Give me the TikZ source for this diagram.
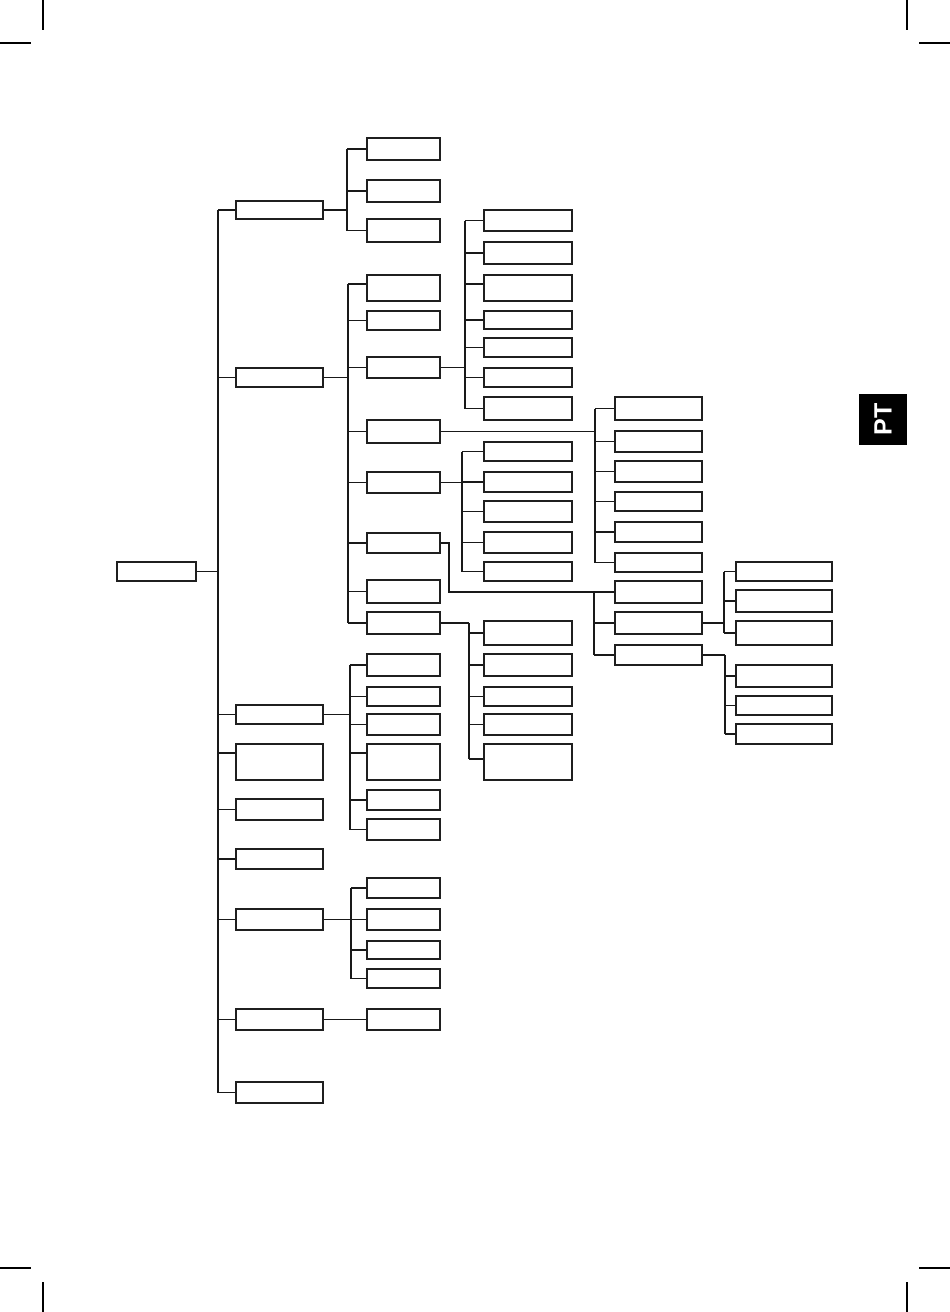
\documentclass[tikz,border=0pt]{standalone}
\usepackage{fontspec}
\setmainfont{Liberation Sans}
\usetikzlibrary{calc}
\newcommand\bx[5]{\node[bx,minimum width={(#4-#2)*1pt},minimum height={(#5-#3)*1pt}] (#1) at ({(#2+#4)/2},{(#3+#5)/2}) {};}
\tikzset{
  bx/.style={draw=black!88,line width=1.8pt,inner sep=0pt,fill=white},
  ln/.style={draw=black!90,line width=1.2pt},
  crop/.style={draw=black,line width=1.3pt},
  tabbox/.style={fill=black,text=white,inner sep=0pt,font=\bfseries\fontsize{25}{25}\selectfont}
}
\begin{document}
\begin{tikzpicture}[x=1pt,y=-1pt]
\useasboundingbox (0,0) rectangle (950,1312);
% crop marks
\draw[crop] (43,0) -- (43,30);
\draw[crop] (0,43) -- (31,43);
\draw[crop] (907,0) -- (907,30);
\draw[crop] (919,43) -- (950,43);
\draw[crop] (43,1282) -- (43,1312);
\draw[crop] (0,1268) -- (31,1268);
\draw[crop] (907,1282) -- (907,1312);
\draw[crop] (919,1268) -- (950,1268);
% tab
\node[tabbox,rotate=90,minimum width=51pt,minimum height=48pt] (pt) at (883,419.5) {PT};
% root and level 1
\bx{r}{117}{562}{196}{581}
\bx{a1}{236}{201}{323}{219}
\bx{a2}{236}{368}{323}{387}
\bx{a3}{236}{705}{323}{724}
\bx{a4}{236}{744}{323}{780}
\bx{a5}{236}{799}{323}{820}
\bx{a6}{236}{849}{323}{869}
\bx{a7}{236}{909}{323}{930}
\bx{a8}{236}{1009}{323}{1030}
\bx{a9}{236}{1082}{323}{1103}
% a1 children
\bx{b1}{367}{138}{440}{160}
\bx{b2}{367}{180}{440}{202}
\bx{b3}{367}{219}{440}{242}
% a2 children
\bx{d1}{367}{275}{440}{301}
\bx{d2}{367}{311}{440}{330}
\bx{d3}{367}{357}{440}{378}
\bx{d4}{367}{420}{440}{443}
\bx{d5}{367}{472}{440}{493}
\bx{d6}{367}{533}{440}{553}
\bx{d7}{367}{580}{440}{603}
\bx{d8}{367}{612}{440}{634}
% d3 children
\bx{e1}{484}{210}{572}{231}
\bx{e2}{484}{242}{572}{264}
\bx{e3}{484}{275}{572}{301}
\bx{e4}{484}{311}{572}{329}
\bx{e5}{484}{338}{572}{357}
\bx{e6}{484}{368}{572}{387}
\bx{e7}{484}{397}{572}{420}
% d4 children
\bx{f1}{615}{397}{702}{420}
\bx{f2}{615}{431}{702}{452}
\bx{f3}{615}{461}{702}{482}
\bx{f4}{615}{492}{702}{511}
\bx{f5}{615}{522}{702}{542}
\bx{f6}{615}{553}{702}{572}
% d5 children
\bx{g1}{484}{442}{572}{461}
\bx{g2}{484}{472}{572}{492}
\bx{g3}{484}{501}{572}{522}
\bx{g4}{484}{532}{572}{553}
\bx{g5}{484}{562}{572}{581}
% d6 children
\bx{h1}{615}{581}{702}{603}
\bx{h2}{615}{612}{702}{634}
\bx{h3}{615}{645}{702}{665}
% h2 children
\bx{i1}{736}{562}{832}{581}
\bx{i2}{736}{590}{832}{612}
\bx{i3}{736}{621}{832}{645}
% h3 children
\bx{j1}{736}{665}{832}{687}
\bx{j2}{736}{696}{832}{715}
\bx{j3}{736}{724}{832}{744}
% d8 children
\bx{k1}{484}{621}{572}{645}
\bx{k2}{484}{654}{572}{676}
\bx{k3}{484}{687}{572}{706}
\bx{k4}{484}{714}{572}{735}
\bx{k5}{484}{744}{572}{780}
% a3 children
\bx{l1}{367}{654}{440}{676}
\bx{l2}{367}{687}{440}{706}
\bx{l3}{367}{714}{440}{735}
\bx{l4}{367}{744}{440}{780}
\bx{l5}{367}{790}{440}{810}
\bx{l6}{367}{819}{440}{840}
% a7 children
\bx{m1}{367}{878}{440}{898}
\bx{m2}{367}{909}{440}{930}
\bx{m3}{367}{941}{440}{959}
\bx{m4}{367}{969}{440}{988}
% a8 child
\bx{n1}{367}{1009}{440}{1030}
% shifted anchor points for tall boxes
\coordinate (pa4) at ([yshift=9pt]a4.west);
\coordinate (pd1) at ([yshift=4pt]d1.west);
\coordinate (pe3) at ([yshift=4pt]e3.west);
\coordinate (pl4) at ([yshift=9pt]l4.west);
\coordinate (pk5) at ([yshift=3pt]k5.west);
% bracket x positions
\coordinate (T) at (218,0);
\coordinate (B1) at (347,0);
\coordinate (B2) at (348,0);
\coordinate (B3) at (465,0);
\coordinate (B4) at (595,0);
\coordinate (B5) at (462,0);
\coordinate (E6) at (449,0);
\coordinate (B6) at (594,0);
\coordinate (B7) at (724,0);
\coordinate (B8) at (725,0);
\coordinate (B9) at (469,0);
\coordinate (B10) at (350,0);
\coordinate (B11) at (351,0);
% trunk
\draw[ln] (r.east) -- (T |- r.east);
\draw[ln] (T |- a1.west) -- (T |- a9.west);
\foreach \c in {a1.west,a2.west,a3.west,pa4,a5.west,a6.west,a7.west,a8.west,a9.west}
  \draw[ln] (T |- \c) -- (\c);
% a1 group
\draw[ln] (a1.east) -- (B1 |- a1.east);
\draw[ln] (B1 |- b1.west) -- (B1 |- b3.west);
\foreach \c in {b1.west,b2.west,b3.west} \draw[ln] (B1 |- \c) -- (\c);
% a2 group
\draw[ln] (a2.east) -- (B2 |- a2.east);
\draw[ln] (B2 |- pd1) -- (B2 |- d8.west);
\foreach \c in {pd1,d2.west,d3.west,d4.west,d5.west,d6.west,d7.west,d8.west} \draw[ln] (B2 |- \c) -- (\c);
% d3 group
\draw[ln] (d3.east) -- (B3 |- d3.east);
\draw[ln] (B3 |- e1.west) -- (B3 |- e7.west);
\foreach \c in {e1.west,e2.west,pe3,e4.west,e5.west,e6.west,e7.west} \draw[ln] (B3 |- \c) -- (\c);
% d4 group
\draw[ln] (d4.east) -- (B4 |- d4.east);
\draw[ln] (B4 |- f1.west) -- (B4 |- f6.west);
\foreach \c in {f1.west,f2.west,f3.west,f4.west,f5.west,f6.west} \draw[ln] (B4 |- \c) -- (\c);
% d5 group
\draw[ln] (d5.east) -- (B5 |- d5.east);
\draw[ln] (B5 |- g1.west) -- (B5 |- g5.west);
\foreach \c in {g1.west,g2.west,g3.west,g4.west,g5.west} \draw[ln] (B5 |- \c) -- (\c);
% d6 group
\draw[ln] (d6.east) -- (E6 |- d6.east) |- (B6 |- h1.west);
\draw[ln] (B6 |- h1.west) -- (B6 |- h3.west);
\foreach \c in {h1.west,h2.west,h3.west} \draw[ln] (B6 |- \c) -- (\c);
% h2 group
\draw[ln] (h2.east) -- (B7 |- h2.east);
\draw[ln] (B7 |- i1.west) -- (B7 |- i3.west);
\foreach \c in {i1.west,i2.west,i3.west} \draw[ln] (B7 |- \c) -- (\c);
% h3 group
\draw[ln] (h3.east) -- (B8 |- h3.east);
\draw[ln] (B8 |- h3.east) -- (B8 |- j3.west);
\foreach \c in {j1.west,j2.west,j3.west} \draw[ln] (B8 |- \c) -- (\c);
% d8 group
\draw[ln] (d8.east) -- (B9 |- d8.east);
\draw[ln] (B9 |- d8.east) -- (B9 |- pk5);
\foreach \c in {k1.west,k2.west,k3.west,k4.west,pk5} \draw[ln] (B9 |- \c) -- (\c);
% a3 group
\draw[ln] (a3.east) -- (B10 |- a3.east);
\draw[ln] (B10 |- l1.west) -- (B10 |- l6.west);
\foreach \c in {l1.west,l2.west,l3.west,pl4,l5.west,l6.west} \draw[ln] (B10 |- \c) -- (\c);
% a7 group
\draw[ln] (a7.east) -- (B11 |- a7.east);
\draw[ln] (B11 |- m1.west) -- (B11 |- m4.west);
\foreach \c in {m1.west,m2.west,m3.west,m4.west} \draw[ln] (B11 |- \c) -- (\c);
% a8 group
\draw[ln] (a8.east) -- (n1.west);
\end{tikzpicture}
\end{document}
